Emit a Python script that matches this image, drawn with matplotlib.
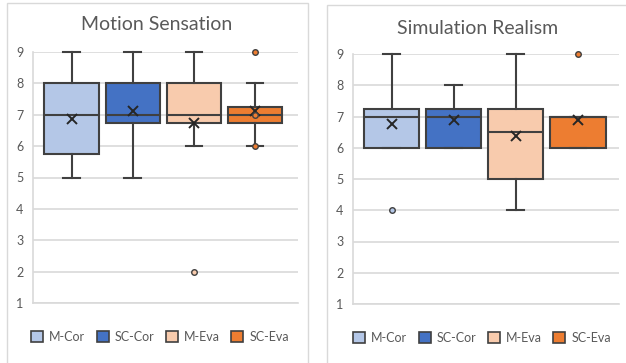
import matplotlib
matplotlib.use('Agg')
import matplotlib.pyplot as plt
from matplotlib.patches import Rectangle, Patch

W, H = 626, 363

series = ['M-Cor', 'SC-Cor', 'M-Eva', 'SC-Eva']
colors = ['#B4C7E7', '#4472C4', '#F8CBAD', '#ED7D31']
titles = ['Motion Sensation', 'Simulation Realism']
yticks = [1, 2, 3, 4, 5, 6, 7, 8, 9]

# Motion Sensation
ms_whislo = [5, 5, 6, 6]
ms_q1 = [5.75, 6.75, 6.75, 6.75]
ms_med = [7, 7, 7, 7]
ms_q3 = [8, 8, 8, 7.25]
ms_whishi = [9, 9, 9, 8]
ms_mean = [6.875, 7.125, 6.75, 7.125]
ms_fliers = [[], [], [2], [9, 7, 6]]

# Simulation Realism
sr_whislo = [6, 6, 4, 6]
sr_q1 = [6, 6, 5, 6]
sr_med = [7, 7, 6.5, 7]
sr_q3 = [7.25, 7.25, 7.25, 7]
sr_whishi = [9, 8, 9, 7]
sr_mean = [6.75, 6.875, 6.375, 6.875]
sr_fliers = [[4], [], [], [9]]

plt.rcParams['font.family'] = ['Lato', 'DejaVu Sans']
TXT = '#595959'
GRID = '#D9D9D9'
EDGE = '#404040'

fig = plt.figure(figsize=(W / 100, H / 100), dpi=100)


def fx(px):
    return px / W


def fy(py):
    return 1 - py / H


# chart borders
fig.add_artist(Rectangle((fx(7), fy(380)), fx(308) - fx(7), fy(3) - fy(380),
                         transform=fig.transFigure, fill=False, edgecolor=GRID, lw=1))
fig.add_artist(Rectangle((fx(327), fy(380)), fx(660) - fx(327), fy(5) - fy(380),
                         transform=fig.transFigure, fill=False, edgecolor=GRID, lw=1))

panels = [
    dict(rect=(33, 298, 52, 303), title_xy=(157, 24), leg_xy=(160, 337),
         data=(ms_whislo, ms_q1, ms_med, ms_q3, ms_whishi, ms_mean, ms_fliers),
         xlim=(-0.63, 3.70)),
    dict(rect=(353, 619, 54, 304), title_xy=(478, 28), leg_xy=(482, 338),
         data=(sr_whislo, sr_q1, sr_med, sr_q3, sr_whishi, sr_mean, sr_fliers),
         xlim=(-0.62, 3.66)),
]

for p, title in zip(panels, titles):
    x0, x1, ytop, ybot = p['rect']
    ax = fig.add_axes([fx(x0), fy(ybot), fx(x1) - fx(x0), fy(ytop) - fy(ybot)])
    wlo, q1, med, q3, whi, mean, fl = p['data']
    stats = []
    for i in range(len(series)):
        stats.append(dict(whislo=wlo[i], q1=q1[i], med=med[i], q3=q3[i],
                          whishi=whi[i], mean=mean[i], fliers=fl[i], label=series[i]))
    res = ax.bxp(stats, positions=range(len(series)), widths=0.89,
                 patch_artist=True, showmeans=True, capwidths=0.27,
                 boxprops=dict(edgecolor=EDGE, linewidth=1.5),
                 whiskerprops=dict(color=EDGE, linewidth=1.5),
                 capprops=dict(color=EDGE, linewidth=1.5),
                 medianprops=dict(color=EDGE, linewidth=1.5),
                 meanprops=dict(marker='x', markersize=7, markeredgecolor='#262626',
                                markeredgewidth=1.4),
                 flierprops=dict(marker='o', markersize=4, markeredgecolor=EDGE,
                                 markeredgewidth=1.0))
    for i, b in enumerate(res['boxes']):
        b.set_facecolor(colors[i])
    for i, f in enumerate(res['fliers']):
        f.set_markerfacecolor(colors[i])
    for key in res:
        for a in res[key]:
            a.set_clip_on(False)
            a.set_zorder(3)
    ax.set_xlim(*p['xlim'])
    ax.set_ylim(1, 9)
    ax.set_yticks(yticks)
    ax.set_xticks([])
    ax.grid(axis='y', color=GRID, linewidth=1.2)
    ax.set_axisbelow(True)
    for s in ['top', 'right']:
        ax.spines[s].set_visible(False)
    for s in ['left', 'bottom']:
        ax.spines[s].set_color(GRID)
        ax.spines[s].set_linewidth(1.2)
    ax.tick_params(axis='y', length=0, pad=7, labelsize=9, labelcolor=TXT)
    fig.text(fx(p['title_xy'][0]), fy(p['title_xy'][1]), title, ha='center', va='center',
             fontsize=14, color=TXT)
    handles = [Patch(facecolor=c, edgecolor=EDGE, linewidth=1.2, label=s)
               for c, s in zip(colors, series)]
    fig.legend(handles=handles, loc='center',
               bbox_to_anchor=(fx(p['leg_xy'][0]), fy(p['leg_xy'][1])),
               ncol=4, frameon=False, fontsize=9, labelcolor=TXT,
               handlelength=0.95, handleheight=0.95, handletextpad=0.5,
               columnspacing=0.9, borderpad=0, borderaxespad=0)

fig.savefig('out.png', dpi=100)
